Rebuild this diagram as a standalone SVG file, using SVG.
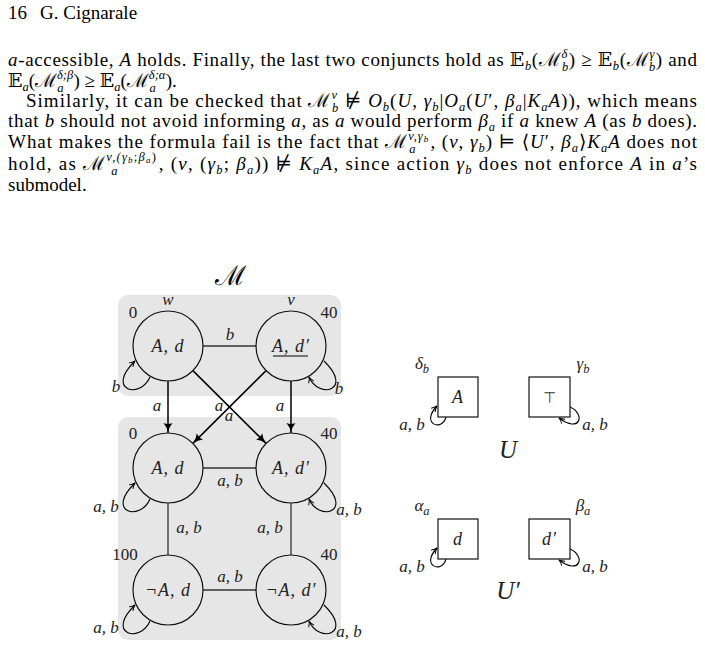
<svg xmlns="http://www.w3.org/2000/svg" width="705" height="647" viewBox="0 0 705 647">
<style>
.t{font-family:"Liberation Serif","DejaVu Serif",serif;font-size:19px;fill:#000}
.i{font-style:italic}
.s{font-size:12.5px}
.lb{font-family:"Liberation Serif","DejaVu Serif",serif;font-size:17px;font-style:italic;fill:#222;text-anchor:middle}
.nl{font-family:"Liberation Serif","DejaVu Serif",serif;font-size:18px;font-style:italic;letter-spacing:1px;fill:#222;text-anchor:middle}
.num{font-family:"Liberation Serif","DejaVu Serif",serif;font-size:17px;fill:#222;text-anchor:middle}
.bg{fill:#e6e6e6}
.nd{fill:#e6e6e6;stroke:#111;stroke-width:1.2}
.bx{fill:#fff;stroke:#111;stroke-width:1.2}
.ed{stroke:#333;stroke-width:1.3;fill:none}
.ar{stroke:#000;stroke-width:1.5;fill:none;marker-end:url(#ah)}
.lp{stroke:#000;stroke-width:1.1;fill:none;marker-end:url(#lh)}
</style>
<defs>
<marker id="ah" viewBox="0 0 10 10" refX="10" refY="5" markerWidth="10" markerHeight="10" markerUnits="userSpaceOnUse" orient="auto"><path d="M0,0.5 Q4,4 10,5 Q4,6 0,9.5 Q2,5 0,0.5Z" fill="#000"/></marker>
<marker id="lh" viewBox="0 0 10 10" refX="9" refY="5" markerWidth="7" markerHeight="7" markerUnits="userSpaceOnUse" orient="auto"><path d="M1,1 Q5,4 9,5 Q5,6 1,9" fill="none" stroke="#000" stroke-width="1.4"/></marker>
</defs>

<g id="page-text">
<text class="t" x="8" y="19">16</text>
<text class="t" x="40" y="19">G. Cignarale</text>
<text class="t" x="8" y="66" textLength="689" lengthAdjust="spacing"><tspan class="i">a</tspan>-accessible, <tspan class="i">A</tspan> holds. Finally, the last two conjuncts hold as 𝔼<tspan class="s i" dy="4">b</tspan><tspan dy="-4">(ℳ</tspan><tspan class="s i" dy="-8">δ</tspan><tspan class="s i" dx="-6" dy="13">b</tspan><tspan dy="-5">) ≥ 𝔼</tspan><tspan class="s i" dy="4">b</tspan><tspan dy="-4">(ℳ</tspan><tspan class="s i" dy="-8">γ</tspan><tspan class="s i" dx="-6" dy="13">b</tspan><tspan dy="-5">) and</tspan></text>
<text class="t" x="8" y="87">𝔼<tspan class="s i" dy="4">a</tspan><tspan dy="-4">(ℳ</tspan><tspan class="s i" dy="-8">δ;β</tspan><tspan class="s i" dx="-16" dy="13">a</tspan><tspan dx="10" dy="-5">) ≥ 𝔼</tspan><tspan class="s i" dy="4">a</tspan><tspan dy="-4">(ℳ</tspan><tspan class="s i" dy="-8">δ;α</tspan><tspan class="s i" dx="-16" dy="13">a</tspan><tspan dx="10" dy="-5">).</tspan></text>
<text class="t" x="26" y="107" textLength="671" lengthAdjust="spacing">Similarly, it can be checked that ℳ<tspan class="s i" dy="-8">v</tspan><tspan class="s i" dx="-6" dy="13">b</tspan><tspan dy="-5"> ⊭ </tspan><tspan class="i">O</tspan><tspan class="s i" dy="4">b</tspan><tspan dy="-4">(</tspan><tspan class="i">U</tspan>, <tspan class="i">γ</tspan><tspan class="s i" dy="4">b</tspan><tspan dy="-4">|</tspan><tspan class="i">O</tspan><tspan class="s i" dy="4">a</tspan><tspan dy="-4">(</tspan><tspan class="i">U</tspan>′, <tspan class="i">β</tspan><tspan class="s i" dy="4">a</tspan><tspan dy="-4">|</tspan><tspan class="i">K</tspan><tspan class="s i" dy="4">a</tspan><tspan class="i" dy="-4">A</tspan>)), which means</text>
<text class="t" x="8" y="127" textLength="689" lengthAdjust="spacing">that <tspan class="i">b</tspan> should not avoid informing <tspan class="i">a</tspan>, as <tspan class="i">a</tspan> would perform <tspan class="i">β</tspan><tspan class="s i" dy="4">a</tspan><tspan dy="-4"> if </tspan><tspan class="i">a</tspan> knew <tspan class="i">A</tspan> (as <tspan class="i">b</tspan> does).</text>
<text class="t" x="8" y="148" textLength="689" lengthAdjust="spacing">What makes the formula fail is the fact that ℳ<tspan class="s i" dy="-8">v,γ</tspan><tspan class="s i" style="font-size:9px" dy="2">b</tspan><tspan class="s i" dx="-20" dy="11">a</tspan><tspan dx="14" dy="-5">, (</tspan><tspan class="i">v</tspan>, <tspan class="i">γ</tspan><tspan class="s i" dy="4">b</tspan><tspan dy="-4">) ⊨ ⟨</tspan><tspan class="i">U</tspan>′, <tspan class="i">β</tspan><tspan class="s i" dy="4">a</tspan><tspan dy="-4">⟩</tspan><tspan class="i">K</tspan><tspan class="s i" dy="4">a</tspan><tspan class="i" dy="-4">A</tspan> does not</text>
<text class="t" x="8" y="170" textLength="689" lengthAdjust="spacing">hold, as ℳ<tspan class="s i" dy="-9">v,(γ</tspan><tspan class="s i" style="font-size:9px" dy="2">b</tspan><tspan class="s" dy="-2">;</tspan><tspan class="s i">β</tspan><tspan class="s i" style="font-size:9px" dy="2">a</tspan><tspan class="s" dy="-2">)</tspan><tspan class="s i" dx="-46" dy="14">a</tspan><tspan dx="40" dy="-5">, (</tspan><tspan class="i">v</tspan>, (<tspan class="i">γ</tspan><tspan class="s i" dy="4">b</tspan><tspan dy="-4">; </tspan><tspan class="i">β</tspan><tspan class="s i" dy="4">a</tspan><tspan dy="-4">)) ⊭ </tspan><tspan class="i">K</tspan><tspan class="s i" dy="4">a</tspan><tspan class="i" dy="-4">A</tspan>, since action <tspan class="i">γ</tspan><tspan class="s i" dy="4">b</tspan><tspan dy="-4"> does not enforce </tspan><tspan class="i">A</tspan> in <tspan class="i">a</tspan>’s</text>
<text class="t" x="8" y="191">submodel.</text>
</g>

<g id="panels">
<rect class="bg" x="118" y="295" width="223" height="101" rx="10"/>
<rect class="bg" x="118" y="417" width="223" height="223" rx="10"/>
<text x="230" y="285" style="font-family:'DejaVu Serif',serif;font-size:27px;text-anchor:middle">ℳ</text>
</g>

<g id="connectors">
<line class="ed" x1="203" y1="346" x2="256" y2="346"/>
<line class="ed" x1="203" y1="468" x2="256" y2="468"/>
<line class="ed" x1="203" y1="590" x2="256" y2="590"/>
<line class="ed" x1="168" y1="503" x2="168" y2="555"/>
<line class="ed" x1="291" y1="503" x2="291" y2="555"/>
<line class="ar" x1="168" y1="381" x2="168" y2="433"/>
<line class="ar" x1="291" y1="381" x2="291" y2="433"/>
<line class="ar" x1="192.9" y1="370.6" x2="266.1" y2="443.4"/>
<line class="ar" x1="266.1" y1="370.6" x2="192.9" y2="443.4"/>
<path class="lp" d="M150,377 C140,400 105,390 135,361"/>
<path class="lp" d="M324,361 C354,390 319,400 309,377"/>
<path class="lp" d="M150,499 C140,522 105,512 135,483"/>
<path class="lp" d="M324,483 C354,512 319,522 309,499"/>
<path class="lp" d="M150,621 C140,644 105,634 135,605"/>
<path class="lp" d="M324,605 C354,634 319,644 309,621"/>
<path class="lp" d="M446,417 C442,432 420,424 437,406"/>
<path class="lp" d="M570,407 C586,414 580,434 559,418"/>
<path class="lp" d="M446,559 C442,574 420,566 437,548"/>
<path class="lp" d="M570,549 C586,556 580,576 559,560"/>
</g>

<g id="connector-labels">
<text class="lb" x="230" y="340">b</text>
<text class="lb" x="116" y="392">b</text>
<text class="lb" x="339" y="394">b</text>
<text class="lb" x="157" y="411">a</text>
<text class="lb" x="219" y="411">a</text>
<text class="lb" x="229" y="421">a</text>
<text class="lb" x="280" y="411">a</text>
<text class="lb" x="230" y="486">a, b</text>
<text class="lb" x="106" y="512">a, b</text>
<text class="lb" x="349" y="515">a, b</text>
<text class="lb" x="189" y="533">a, b</text>
<text class="lb" x="270" y="533">a, b</text>
<text class="lb" x="230" y="582">a, b</text>
<text class="lb" x="106" y="633">a, b</text>
<text class="lb" x="349" y="637">a, b</text>
<text class="lb" x="412" y="430">a, b</text>
<text class="lb" x="595" y="430">a, b</text>
<text class="lb" x="412" y="572">a, b</text>
<text class="lb" x="595" y="572">a, b</text>
</g>

<g id="node-w">
<circle class="nd" cx="168" cy="346" r="35"/>
<text class="nl" x="168" y="352">A, d</text>
<text class="lb" x="168" y="305">w</text>
<text class="num" x="133" y="318">0</text>
</g>
<g id="node-v">
<circle class="nd" cx="291" cy="346" r="35"/>
<text class="nl" x="291" y="352">A, d′</text>
<line x1="273" y1="356" x2="308" y2="356" stroke="#000" stroke-width="1.2"/>
<text class="lb" x="291" y="305">v</text>
<text class="num" x="329" y="318">40</text>
</g>
<g id="node-Ad">
<circle class="nd" cx="168" cy="468" r="35"/>
<text class="nl" x="168" y="474">A, d</text>
<text class="num" x="133" y="439">0</text>
</g>
<g id="node-Adp">
<circle class="nd" cx="291" cy="468" r="35"/>
<text class="nl" x="291" y="474">A, d′</text>
<text class="num" x="329" y="439">40</text>
</g>
<g id="node-nAd">
<circle class="nd" cx="168" cy="590" r="35"/>
<text class="nl" x="168" y="596">¬A, d</text>
<text class="num" x="125" y="560">100</text>
</g>
<g id="node-nAdp">
<circle class="nd" cx="291" cy="590" r="35"/>
<text class="nl" x="291" y="596">¬A, d′</text>
<text class="num" x="329" y="560">40</text>
</g>

<g id="node-delta-b">
<rect class="bx" x="438" y="377" width="40" height="40"/>
<text class="nl" x="458" y="403">A</text>
<text class="lb" x="422" y="369">δ<tspan class="s" dy="4">b</tspan></text>
</g>
<g id="node-gamma-b">
<rect class="bx" x="529" y="377" width="41" height="40"/>
<text x="549.5" y="403" style="font-family:'DejaVu Sans',sans-serif;font-size:15px;text-anchor:middle;fill:#333">⊤</text>
<text class="lb" x="583" y="369">γ<tspan class="s" dy="4">b</tspan></text>
</g>
<text class="lb" x="508" y="458" style="font-size:25px">U</text>

<g id="node-alpha-a">
<rect class="bx" x="438" y="519" width="40" height="40"/>
<text class="nl" x="458" y="545">d</text>
<text class="lb" x="422" y="511">α<tspan class="s" dy="4">a</tspan></text>
</g>
<g id="node-beta-a">
<rect class="bx" x="529" y="519" width="41" height="40"/>
<text class="nl" x="549.5" y="545">d′</text>
<text class="lb" x="583" y="511">β<tspan class="s" dy="4">a</tspan></text>
</g>
<text class="lb" x="508" y="599" style="font-size:25px">U′</text>
</svg>
